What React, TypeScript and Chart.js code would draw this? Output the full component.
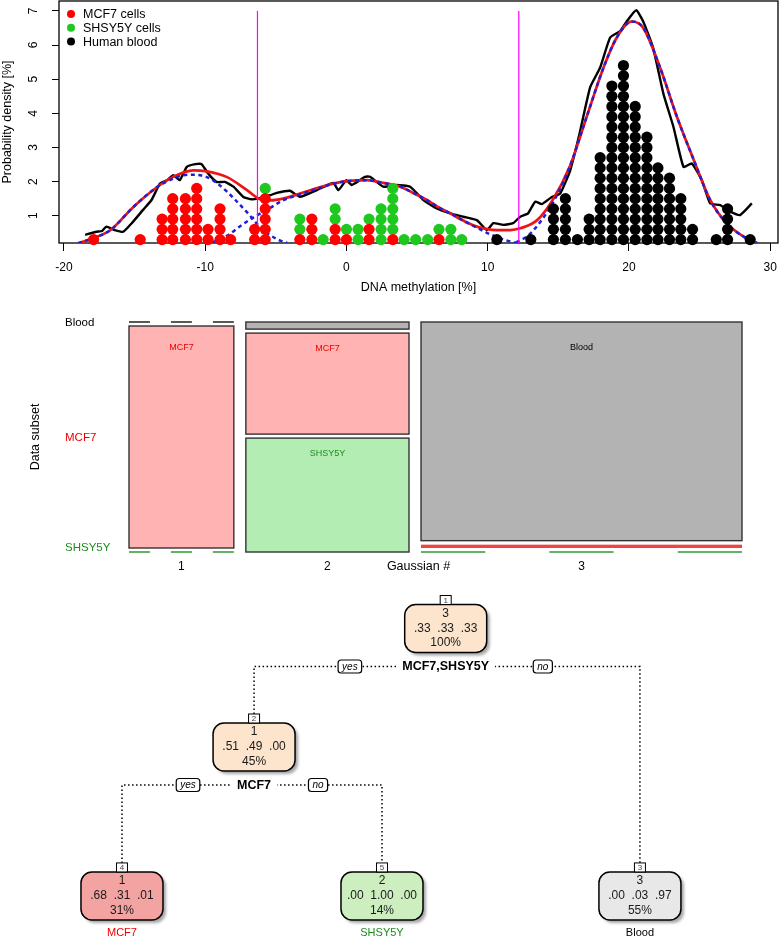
import React, { useEffect, useRef } from "react";
import { Chart, registerables } from "chart.js";

Chart.register(...registerables);

const FONT = '"Liberation Sans", Arial, Helvetica, sans-serif';

// ---------------- Panel A: density + dot plot ----------------
const dotColumnsX = [-17.9, -14.6, -13.05, -12.3, -11.4, -10.6, -9.8, -8.95, -8.2, -6.5, -5.75, -3.3, -2.45, -1.65, -0.8, 0.0, 0.82, 1.6, 2.45, 3.28, 4.08, 4.9, 5.75, 6.55, 7.39, 8.16, 10.65, 13.05, 14.65, 15.5, 16.35, 17.18, 17.96, 18.79, 19.61, 20.44, 21.27, 22.05, 22.87, 23.67, 24.5, 26.18, 26.98, 28.58];
const mcf7Counts = [1, 1, 3, 5, 5, 6, 2, 4, 1, 2, 5, 1, 3, 0, 2, 1, 0, 2, 0, 1, 0, 0, 0, 1, 0, 0, 0, 0, 0, 0, 0, 0, 0, 0, 0, 0, 0, 0, 0, 0, 0, 0, 0, 0];
const shsyCounts = [0, 0, 0, 0, 0, 0, 0, 0, 0, 0, 1, 2, 0, 1, 2, 1, 2, 1, 4, 5, 1, 1, 1, 1, 2, 1, 0, 0, 0, 0, 0, 0, 0, 0, 0, 0, 0, 0, 0, 0, 0, 0, 0, 0];
const bloodCounts = [0, 0, 0, 0, 0, 0, 0, 0, 0, 0, 0, 0, 0, 0, 0, 0, 0, 0, 0, 0, 0, 0, 0, 0, 0, 0, 1, 1, 4, 5, 1, 3, 9, 16, 18, 14, 11, 8, 7, 5, 2, 1, 4, 1];
const dotStep = 0.3;

const empiricalDensity = [[-18.5, 0.44], [-17.7, 0.53], [-17.3, 0.55], [-17.0, 0.68], [-16.4, 0.58], [-15.8, 0.53], [-15.2, 0.78], [-14.4, 1.17], [-13.8, 1.46], [-13.2, 1.94], [-12.7, 2.04], [-12.26, 2.19], [-11.8, 2.04], [-11.3, 2.43], [-10.7, 2.51], [-10.25, 2.51], [-9.8, 2.24], [-9.2, 1.99], [-8.6, 1.99], [-8.0, 1.85], [-7.3, 1.55], [-6.7, 1.48], [-6.3, 1.5], [-5.4, 1.6], [-4.94, 1.67], [-4.0, 1.73], [-3.3, 1.55], [-2.1, 1.75], [-0.93, 1.96], [-0.57, 1.75], [0.0, 2.04], [0.37, 1.9], [0.96, 2.04], [1.3, 2.14], [1.67, 2.14], [2.61, 1.85], [3.56, 1.9], [4.5, 1.85], [5.45, 1.46], [6.4, 1.21], [7.34, 1.07], [8.28, 0.97], [9.23, 0.87], [9.94, 0.58], [10.4, 0.78], [11.1, 0.73], [11.8, 0.78], [12.3, 0.97], [12.86, 1.07], [13.36, 1.41], [13.83, 1.34], [14.54, 1.55], [15.13, 1.65], [15.84, 2.33], [16.5, 3.4], [17.25, 4.76], [17.96, 5.34], [18.67, 6.22], [19.38, 6.41], [19.85, 6.7], [20.51, 7.02], [21.0, 6.7], [21.7, 5.93], [22.44, 4.57], [23.15, 3.6], [23.86, 2.43], [24.45, 2.53], [25.16, 2.04], [25.75, 1.36], [26.46, 1.31], [27.17, 1.12], [27.87, 1.02], [28.7, 1.36]];
const mixtureDensity = [[-18.9, 0.2], [-18, 0.33], [-16.7, 0.58], [-15.1, 1.25], [-13.4, 1.84], [-12.3, 2.13], [-10.85, 2.33], [-9.87, 2.3], [-8.45, 2.13], [-7.04, 1.75], [-6.1, 1.48], [-5.4, 1.45], [-4.5, 1.5], [-3.29, 1.65], [-2, 1.82], [-0.95, 1.94], [0.2, 2.02], [1.44, 2.04], [2.6, 1.96], [3.8, 1.85], [4.8, 1.65], [5.69, 1.46], [6.5, 1.25], [7.34, 1.07], [8.3, 0.85], [9.23, 0.68], [10.64, 0.58], [11.6, 0.58], [12.3, 0.63], [13.5, 0.87], [14.6, 1.46], [15.8, 2.43], [17.0, 3.89], [18.2, 5.34], [19.14, 6.22], [20.2, 6.69], [21.0, 6.51], [22.2, 5.34], [23.4, 3.89], [24.6, 2.62], [25.75, 1.46], [26.9, 0.78], [28.1, 0.39], [29.06, 0.2]];
const gauss1Density = [[-19, 0.2], [-18, 0.33], [-16.7, 0.58], [-15.1, 1.25], [-13.4, 1.84], [-12.3, 2.08], [-11.2, 2.2], [-10, 2.15], [-9, 1.9], [-8, 1.52], [-7, 1.08], [-6, 0.62], [-5, 0.33], [-4.2, 0.2]];
const gauss2Density = [[-9.5, 0.22], [-8.5, 0.4], [-7.5, 0.7], [-6.5, 0.97], [-5.5, 1.2], [-4.5, 1.45], [-3.3, 1.62], [-2, 1.8], [-1, 1.93], [0.2, 2.02], [1.44, 2.04], [2.6, 1.96], [3.8, 1.85], [4.8, 1.65], [5.69, 1.46], [6.5, 1.25], [7.34, 1.07], [8.3, 0.85], [9.23, 0.65], [10.2, 0.45], [11, 0.32], [12, 0.2]];
const gauss3Density = [[12, 0.22], [12.8, 0.4], [13.5, 0.7], [14.2, 1.1], [14.9, 1.6], [15.8, 2.43], [17.0, 3.89], [18.2, 5.34], [19.14, 6.22], [20.2, 6.69], [21.0, 6.51], [22.2, 5.34], [23.4, 3.89], [24.6, 2.62], [25.75, 1.46], [26.9, 0.78], [28.1, 0.39], [29.06, 0.2]];
const cutoffs = [-6.3, 12.2];
const legendLabels = ["MCF7 cells", "SHSY5Y cells", "Human blood"];
const groupColors = ["#ff0000", "#1ec81e", "#000000"];

// ---------------- Panel B: mosaic ----------------
const gaussianLabels = ["1", "2", "3"];
const subsetLabels = ["Blood", "MCF7", "SHSY5Y"];
const gaussianShare = [0.178, 0.277, 0.545];
const bloodShare = [0, 0.032, 0.985];
const mcf7Share = [1, 0.455, 0.015];
const shsyShare = [0, 0.513, 0];
const subsetFill = ["#b3b3b3", "#ffb3b3", "#b4edb4"];
const subsetLine = ["#222222", "#ee4444", "#2e9b2e"];
const subsetText = ["#000000", "#ee0000", "#1e8c1e"];

// ---------------- Panel C: decision tree ----------------
const nodeIds = [1, 2, 4, 5, 3];
const nodeX = [2.25, 1.51, 1, 2.004, 3];
const nodeLevel = [0, 1, 2.257, 2.257, 2.257];
const nodeParent = [-1, 0, 1, 1, 0];
const nodeClass = ["3", "1", "1", "2", "3"];
const nodeProbs = [[".33", ".33", ".33"], [".51", ".49", ".00"], [".68", ".31", ".01"], [".00", "1.00", ".00"], [".00", ".03", ".97"]];
const nodePct = ["100%", "45%", "31%", "14%", "55%"];
const nodeFill = ["#fce4cd", "#fce4cd", "#f4a3a3", "#cdeebf", "#e8e8e8"];
const splitLabels = ["MCF7,SHSY5Y", "MCF7", "", "", ""];
const leafLabels = ["", "", "MCF7", "SHSY5Y", "Blood"];
const leafColors = ["", "", "#ee0000", "#1e8c1e", "#000000"];

function buildDots() {
  const groups = [mcf7Counts, shsyCounts, bloodCounts];
  const out: any[] = [[], [], []];
  dotColumnsX.forEach((x, i) => {
    let row = 0;
    groups.forEach((counts, g) => {
      for (let k = 0; k < counts[i]; k++) {
        row += 1;
        out[g].push({ x, y: row * dotStep });
      }
    });
  });
  return out;
}

const pts = (arr: number[][]) => arr.map(([x, y]) => ({ x, y }));

function roundRect(ctx: any, x: number, y: number, w: number, h: number, r: number) {
  ctx.beginPath();
  ctx.moveTo(x + r, y);
  ctx.lineTo(x + w - r, y);
  ctx.arcTo(x + w, y, x + w, y + r, r);
  ctx.lineTo(x + w, y + h - r);
  ctx.arcTo(x + w, y + h, x + w - r, y + h, r);
  ctx.lineTo(x + r, y + h);
  ctx.arcTo(x, y + h, x, y + h - r, r);
  ctx.lineTo(x, y + r);
  ctx.arcTo(x, y, x + r, y, r);
  ctx.closePath();
}

const zeroPad = (s: any) => {
  s.paddingLeft = 0;
  s.paddingRight = 0;
  s.paddingTop = 0;
  s.paddingBottom = 0;
};

const densityDecor = {
  id: "densityDecor",
  beforeDatasetsDraw(chart: any) {
    const { ctx, chartArea: a } = chart;
    ctx.save();
    ctx.strokeStyle = "#000";
    ctx.lineWidth = 1.3;
    ctx.strokeRect(a.left, a.top, a.right - a.left, a.bottom - a.top);
    ctx.restore();
  },
  afterDraw(chart: any) {
    const { ctx, chartArea: a, scales } = chart;
    const ys = scales.y;
    ctx.save();
    ctx.fillStyle = "#000";
    ctx.font = `12px ${FONT}`;
    ctx.textAlign = "center";
    ctx.textBaseline = "middle";
    ys.ticks.forEach((t: any) => {
      const py = ys.getPixelForValue(t.value);
      ctx.save();
      ctx.translate(a.left - 25, py);
      ctx.rotate(-Math.PI / 2);
      ctx.fillText(String(t.value), 0, 0);
      ctx.restore();
    });
    ctx.font = `12.5px ${FONT}`;
    ctx.textAlign = "left";
    legendLabels.forEach((lab, i) => {
      const cy = a.top + 13 + i * 13.8;
      ctx.fillStyle = groupColors[i];
      ctx.beginPath();
      ctx.arc(a.left + 12, cy, 4, 0, Math.PI * 2);
      ctx.fill();
      ctx.fillStyle = "#000";
      ctx.fillText(lab, a.left + 24, cy + 0.5);
    });
    ctx.restore();
  },
};

function DensityPanel() {
  const ref = useRef<HTMLCanvasElement>(null);
  useEffect(() => {
    const dots = buildDots();
    const lineDs = (label: string, data: number[][], color: string, order: number, extra: any = {}) => ({
      label, data: pts(data), showLine: true, borderColor: color, backgroundColor: color,
      pointRadius: 0, borderWidth: 2.5, order, ...extra,
    });
    const chart = new Chart(ref.current!, {
      type: "scatter",
      data: {
        datasets: [
          ...dots.map((d: any, g: number) => ({
            label: legendLabels[g], data: d, pointRadius: 5.6, pointHoverRadius: 5.6,
            backgroundColor: groupColors[g], borderWidth: 0, order: 0, clip: false,
          })),
          ...cutoffs.map((c) => lineDs("cutoff", [[c, 0.2], [c, 7]], "#ff00ff", 1, { borderWidth: 1.2 })),
          lineDs("Gaussian 1", gauss1Density, "#1f1fd6", 2, { borderDash: [4, 3.5], cubicInterpolationMode: "monotone" }),
          lineDs("Gaussian 2", gauss2Density, "#1f1fd6", 2, { borderDash: [4, 3.5], cubicInterpolationMode: "monotone" }),
          lineDs("Gaussian 3", gauss3Density, "#1f1fd6", 2, { borderDash: [4, 3.5], cubicInterpolationMode: "monotone" }),
          lineDs("GMM", mixtureDensity, "#f01414", 3, { borderWidth: 2.7, cubicInterpolationMode: "monotone" }),
          lineDs("Empirical", empiricalDensity, "#000000", 4, { borderWidth: 2.4, tension: 0.15 }),
        ],
      },
      options: {
        responsive: false,
        animation: false,
        events: [],
        layout: { autoPadding: false, padding: { left: 0, right: 1, top: 1, bottom: 0 } },
        plugins: { legend: { display: false }, tooltip: { enabled: false } },
        scales: {
          x: {
            type: "linear", min: -20.35, max: 30.55,
            afterFit: (s: any) => { s.height = 57; zeroPad(s); },
            ticks: { stepSize: 10, includeBounds: false, color: "#000", font: { family: FONT, size: 12 }, padding: 9, maxRotation: 0 },
            grid: { display: true, drawOnChartArea: false, drawTicks: true, tickLength: 8, color: "#000", lineWidth: 1 },
            border: { display: false },
            title: { display: true, text: "DNA methylation [%]", color: "#000", font: { family: FONT, size: 12.5 }, padding: { top: 0, bottom: 5 } },
          },
          y: {
            type: "linear", min: 0.2, max: 7.29,
            afterFit: (s: any) => { s.width = 59; zeroPad(s); },
            ticks: { stepSize: 1, includeBounds: false, display: false },
            grid: { display: true, drawOnChartArea: false, drawTicks: true, tickLength: 7, color: "#000", lineWidth: 1 },
            border: { display: false },
            title: { display: true, text: "Probability density [%]", color: "#000", font: { family: FONT, size: 12.5 }, padding: { top: 0, bottom: 0 } },
          },
        },
      } as any,
      plugins: [densityDecor],
    });
    return () => chart.destroy();
  }, []);
  return <canvas ref={ref} width={779} height={300} style={{ position: "absolute", left: 0, top: 0, width: 779, height: 300 }} />;
}

const MOSAIC_XGAP = 0.0196;
const MOSAIC_YGAP = 0.0174;

const mosaicPlugin = {
  id: "mosaic",
  afterDraw(chart: any) {
    const { ctx, scales: { x, y } } = chart;
    const shares = [bloodShare, mcf7Share, shsyShare];
    const xAvail = 1 - MOSAIC_XGAP * (gaussianShare.length - 1);
    const yAvail = 1 - MOSAIC_YGAP * (subsetLabels.length - 1);
    const regionTop = y.getPixelForValue(1);
    const regionBottom = y.getPixelForValue(0);
    const colCenters: number[] = [];
    const firstColCenters: number[] = [];
    ctx.save();
    let x0 = 0;
    gaussianShare.forEach((g, i) => {
      const x1 = x0 + g * xAvail;
      const L = x.getPixelForValue(x0);
      const R = x.getPixelForValue(x1);
      colCenters.push((L + R) / 2);
      let yt = 1;
      subsetLabels.forEach((name, j) => {
        const s = shares[j][i];
        const yb = yt - s * yAvail;
        const T = y.getPixelForValue(yt);
        const B = y.getPixelForValue(yb);
        if (i === 0) firstColCenters.push((T + B) / 2);
        if (s === 0) {
          ctx.strokeStyle = subsetLine[j];
          ctx.lineWidth = 1.5;
          const w = (R - L) / 5;
          for (let k = 0; k < 3; k++) {
            ctx.beginPath();
            ctx.moveTo(L + 2 * k * w, T);
            ctx.lineTo(L + (2 * k + 1) * w, T);
            ctx.stroke();
          }
        } else if (B - T < 5) {
          ctx.fillStyle = subsetLine[j];
          ctx.fillRect(L, T, R - L, Math.max(B - T, 2.5));
        } else {
          ctx.fillStyle = subsetFill[j];
          ctx.fillRect(L, T, R - L, B - T);
          ctx.strokeStyle = "#333";
          ctx.lineWidth = 1.4;
          ctx.strokeRect(L, T, R - L, B - T);
          if (s > 0.1) {
            ctx.fillStyle = subsetText[j];
            ctx.font = `9px ${FONT}`;
            ctx.textAlign = "center";
            ctx.textBaseline = "middle";
            ctx.fillText(name, (L + R) / 2, Math.max(T + 15, regionTop + 26));
          }
        }
        yt = yb - MOSAIC_YGAP;
      });
      x0 = x1 + MOSAIC_XGAP;
    });
    ctx.font = `11.5px ${FONT}`;
    ctx.textAlign = "left";
    ctx.textBaseline = "middle";
    subsetLabels.forEach((name, j) => {
      ctx.fillStyle = subsetText[j];
      ctx.fillText(name, 65, Math.min(firstColCenters[j] + 1, regionBottom - 4));
    });
    ctx.fillStyle = "#000";
    ctx.font = `12px ${FONT}`;
    ctx.textAlign = "center";
    gaussianLabels.forEach((lab, i) => ctx.fillText(lab, colCenters[i], regionBottom + 15));
    ctx.font = `12.5px ${FONT}`;
    ctx.fillText("Gaussian #", 418.5, regionBottom + 15);
    ctx.save();
    ctx.translate(36, (regionTop + regionBottom) / 2);
    ctx.rotate(-Math.PI / 2);
    ctx.fillText("Data subset", 0, 0);
    ctx.restore();
    ctx.restore();
  },
};

function MosaicPanel() {
  const ref = useRef<HTMLCanvasElement>(null);
  useEffect(() => {
    const chart = new Chart(ref.current!, {
      type: "scatter",
      data: { datasets: [{ label: "cells", data: gaussianShare.map((g, i) => ({ x: i, y: g })), pointRadius: 0 }] },
      options: {
        responsive: false,
        animation: false,
        events: [],
        layout: { autoPadding: false, padding: { left: 129, right: 37, top: 22, bottom: 38 } },
        plugins: { legend: { display: false }, tooltip: { enabled: false } },
        scales: {
          x: { type: "linear", min: 0, max: 1, display: false },
          y: { type: "linear", min: 0, max: 1, display: false },
        },
      } as any,
      plugins: [mosaicPlugin],
    });
    return () => chart.destroy();
  }, []);
  return <canvas ref={ref} width={779} height={290} style={{ position: "absolute", left: 0, top: 300, width: 779, height: 290 }} />;
}

function drawTag(ctx: any, text: string, cx: number, cy: number) {
  ctx.font = `italic 10px ${FONT}`;
  const w = ctx.measureText(text).width + 8;
  const h = 13;
  roundRect(ctx, cx - w / 2, cy - h / 2, w, h, 3);
  ctx.fillStyle = "#fff";
  ctx.fill();
  ctx.strokeStyle = "#000";
  ctx.lineWidth = 1.2;
  ctx.stroke();
  ctx.fillStyle = "#000";
  ctx.textAlign = "center";
  ctx.textBaseline = "middle";
  ctx.fillText(text, cx, cy + 0.5);
}

const treePlugin = {
  id: "tree",
  afterDraw(chart: any) {
    const { ctx, scales: { x, y } } = chart;
    const P = nodeX.map((v, i) => ({ x: x.getPixelForValue(v), y: y.getPixelForValue(nodeLevel[i]) }));
    const W = 82, H = 48, NBW = 11, NBH = 9;
    ctx.save();
    nodeIds.forEach((_, p) => {
      const kids = nodeParent.map((q, k) => (q === p ? k : -1)).filter((k) => k >= 0);
      if (kids.length !== 2) return;
      const [yes, no] = kids;
      const sy = P[p].y + 38;
      ctx.setLineDash([1.5, 2.5]);
      ctx.lineWidth = 1.5;
      ctx.strokeStyle = "#000";
      ctx.beginPath();
      ctx.moveTo(P[yes].x, P[yes].y - H / 2 - NBH);
      ctx.lineTo(P[yes].x, sy);
      ctx.lineTo(P[no].x, sy);
      ctx.lineTo(P[no].x, P[no].y - H / 2 - NBH);
      ctx.stroke();
      ctx.setLineDash([]);
      ctx.font = `bold 12.5px ${FONT}`;
      const lab = splitLabels[p];
      const tw = ctx.measureText(lab).width;
      ctx.fillStyle = "#fff";
      ctx.fillRect(P[p].x - tw / 2 - 6, sy - 8, tw + 12, 16);
      ctx.fillStyle = "#000";
      ctx.textAlign = "center";
      ctx.textBaseline = "middle";
      ctx.fillText(lab, P[p].x, sy + 0.5);
      drawTag(ctx, "yes", (P[p].x + P[yes].x) / 2, sy);
      drawTag(ctx, "no", (P[p].x + P[no].x) / 2, sy);
    });
    nodeIds.forEach((id, i) => {
      const { x: cx, y: cy } = P[i];
      ctx.save();
      ctx.shadowColor = "rgba(0,0,0,0.35)";
      ctx.shadowBlur = 3;
      ctx.shadowOffsetX = 3;
      ctx.shadowOffsetY = 3;
      roundRect(ctx, cx - W / 2, cy - H / 2, W, H, 11);
      ctx.fillStyle = nodeFill[i];
      ctx.fill();
      ctx.restore();
      roundRect(ctx, cx - W / 2, cy - H / 2, W, H, 11);
      ctx.strokeStyle = "#000";
      ctx.lineWidth = 1.5;
      ctx.stroke();
      ctx.fillStyle = "#fff";
      ctx.fillRect(cx - NBW / 2, cy - H / 2 - NBH, NBW, NBH);
      ctx.lineWidth = 1;
      ctx.strokeRect(cx - NBW / 2, cy - H / 2 - NBH, NBW, NBH);
      ctx.fillStyle = "#444";
      ctx.font = `8px ${FONT}`;
      ctx.textAlign = "center";
      ctx.textBaseline = "middle";
      ctx.fillText(String(id), cx, cy - H / 2 - NBH / 2 + 0.5);
      ctx.fillStyle = "#1a1a1a";
      ctx.font = `12px ${FONT}`;
      ctx.fillText(nodeClass[i], cx, cy - 15);
      ctx.fillText(nodeProbs[i].join("  "), cx, cy);
      ctx.fillText(nodePct[i], cx, cy + 14.5);
      if (leafLabels[i]) {
        ctx.fillStyle = leafColors[i];
        ctx.font = `11px ${FONT}`;
        ctx.fillText(leafLabels[i], cx, cy + H / 2 + 13);
      }
    });
    ctx.restore();
  },
};

function TreePanel() {
  const ref = useRef<HTMLCanvasElement>(null);
  useEffect(() => {
    const chart = new Chart(ref.current!, {
      type: "scatter",
      data: { datasets: [{ label: "nodes", data: nodeX.map((v, i) => ({ x: v, y: nodeLevel[i] })), pointRadius: 0 }] },
      options: {
        responsive: false,
        animation: false,
        events: [],
        layout: { autoPadding: false, padding: 0 },
        plugins: { legend: { display: false }, tooltip: { enabled: false } },
        scales: {
          x: { type: "linear", min: 0.529, max: 3.537, display: false },
          y: { type: "linear", min: -0.325, max: 2.612, reverse: true, display: false },
        },
      } as any,
      plugins: [treePlugin],
    });
    return () => chart.destroy();
  }, []);
  return <canvas ref={ref} width={779} height={348} style={{ position: "absolute", left: 0, top: 590, width: 779, height: 348 }} />;
}

export default function App() {
  return (
    <div style={{ position: "absolute", left: 0, top: 0, width: 779, height: 938, background: "#fff", overflow: "hidden" }}>
      <DensityPanel />
      <MosaicPanel />
      <TreePanel />
    </div>
  );
}
